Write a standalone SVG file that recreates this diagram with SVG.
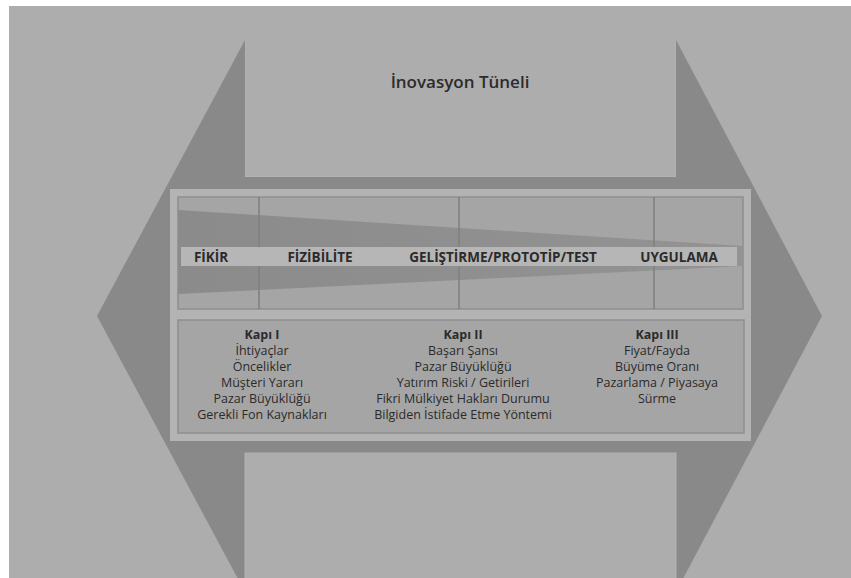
<svg xmlns="http://www.w3.org/2000/svg" width="851" height="578" viewBox="0 0 851 578">
<defs>
<linearGradient id="wedgeGrad" x1="0" y1="0" x2="1" y2="0">
<stop offset="0" stop-color="#8b8b8b"/>
<stop offset="1" stop-color="#939393"/>
</linearGradient>
<style>
.lbl{font-family:"Open Sans","Liberation Sans",sans-serif;fill:#2b2b2b;text-anchor:middle}
.phase{font-size:13.5px;font-weight:700}
.head{font-size:12.5px;font-weight:700}
.item{font-size:12.5px;font-weight:400}
.title{font-size:17px;font-weight:600}
.box{fill:#a5a5a5;stroke:#8f8f8f;stroke-width:1.5}
.div{stroke:#7f7f7f;stroke-width:1.5}
</style>
</defs>
<rect x="0" y="0" width="851" height="578" fill="#ffffff"/>
<rect x="9" y="6" width="842" height="572" fill="#adadad"/>
<g id="tunnel">
<polygon points="245,40 676,40 822,316 676,592 245,592 97,316" fill="#898989"/>
<rect x="245" y="40" width="431" height="137" fill="#adadad"/>
<path d="M245.5,40 V176.5 H675.5 V40" fill="none" stroke="#b2b2b2" stroke-width="1"/>
<rect x="245" y="453" width="431" height="130" fill="#adadad" stroke="#b2b2b2" stroke-width="1"/>
</g>
<g id="title">
<text class="lbl title" x="460" y="88">İnovasyon Tüneli</text>
</g>
<g id="frame">
<rect x="170" y="189" width="581" height="252" fill="#b3b3b3"/>
</g>
<g id="phases">
<rect class="box" x="178" y="197" width="565" height="112"/>
<polygon points="178,210 743,246 743,266 178,294" fill="url(#wedgeGrad)"/>
<g id="connectors">
<line class="div" x1="259" y1="197" x2="259" y2="309"/>
<line class="div" x1="459" y1="197" x2="459" y2="309"/>
<line class="div" x1="654" y1="197" x2="654" y2="309"/>
</g>
<rect x="181" y="247" width="556" height="19" fill="#b6b6b6"/>
<text class="lbl phase" x="211" y="261.5">FİKİR</text>
<text class="lbl phase" x="320" y="261.5">FİZİBİLİTE</text>
<text class="lbl phase" x="503" y="261.5">GELİŞTİRME/PROTOTİP/TEST</text>
<text class="lbl phase" x="679" y="261.5">UYGULAMA</text>
</g>
<g id="gates">
<rect class="box" x="178" y="320" width="566" height="113"/>
<g id="gate1">
<text class="lbl head" x="262" y="339">Kapı I</text>
<text class="lbl item" x="262" y="355">İhtiyaçlar</text>
<text class="lbl item" x="262" y="371">Öncelikler</text>
<text class="lbl item" x="262" y="387">Müşteri Yararı</text>
<text class="lbl item" x="262" y="403">Pazar Büyüklüğü</text>
<text class="lbl item" x="262" y="418.5">Gerekli Fon Kaynakları</text>
</g>
<g id="gate2">
<text class="lbl head" x="463" y="339">Kapı II</text>
<text class="lbl item" x="463" y="355">Başarı Şansı</text>
<text class="lbl item" x="463" y="371">Pazar Büyüklüğü</text>
<text class="lbl item" x="463" y="387">Yatırım Riski / Getirileri</text>
<text class="lbl item" x="463" y="403">Fikri Mülkiyet Hakları Durumu</text>
<text class="lbl item" x="463" y="418.5">Bilgiden İstifade Etme Yöntemi</text>
</g>
<g id="gate3">
<text class="lbl head" x="657" y="339">Kapı III</text>
<text class="lbl item" x="657" y="355">Fiyat/Fayda</text>
<text class="lbl item" x="657" y="371">Büyüme Oranı</text>
<text class="lbl item" x="657" y="387">Pazarlama / Piyasaya</text>
<text class="lbl item" x="657" y="403">Sürme</text>
</g>
</g>
</svg>
